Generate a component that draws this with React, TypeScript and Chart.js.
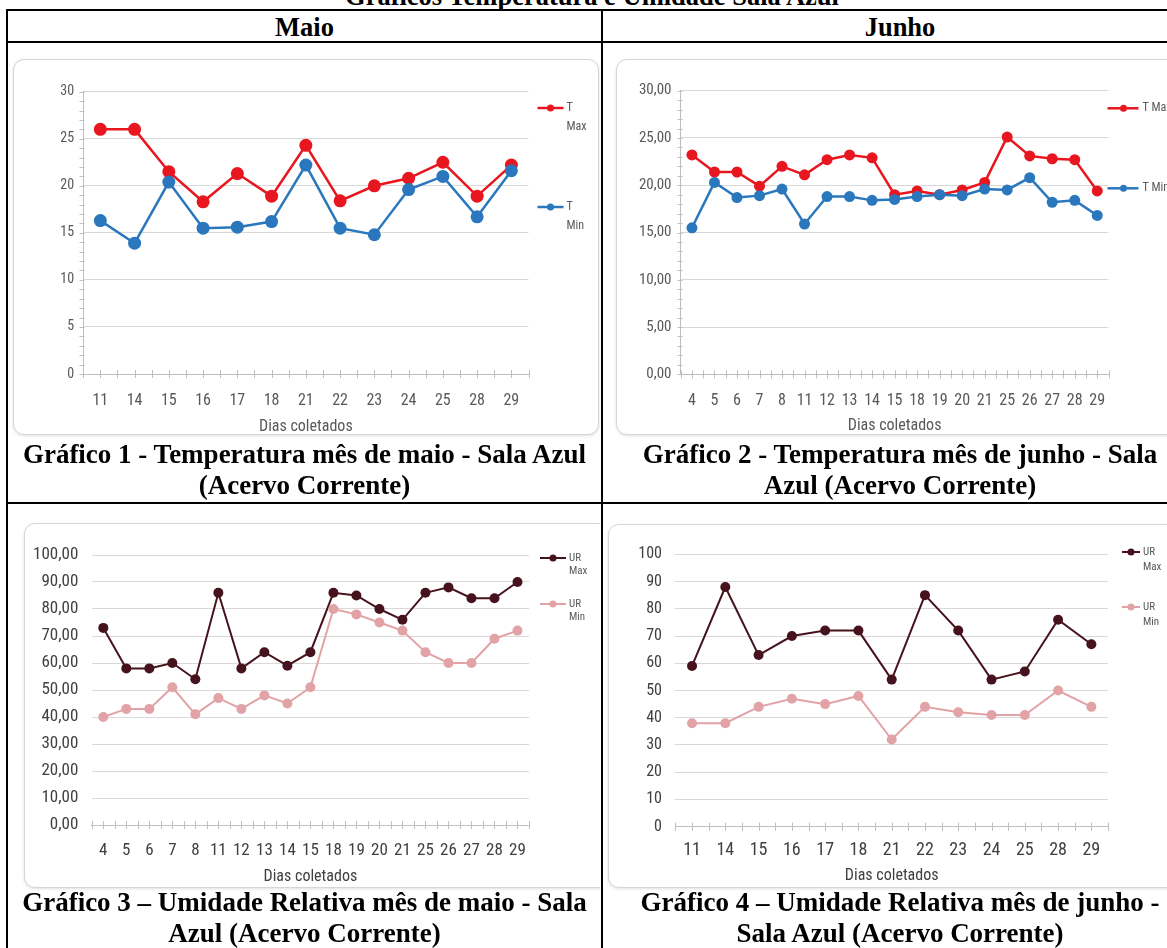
import React, { useEffect, useRef } from "react";
import { Chart, registerables } from "chart.js";

Chart.register(...registerables);

const NARROW = "'Liberation Sans Narrow', 'Arial Narrow', 'Roboto Condensed', 'DejaVu Sans Condensed', sans-serif";
const SERIF = "'Liberation Serif', 'Times New Roman', serif";

// ---------- Data ----------
const maioTempDays = ["11", "14", "15", "16", "17", "18", "21", "22", "23", "24", "25", "28", "29"];
const maioTMax = [26, 26, 21.5, 18.3, 21.3, 18.9, 24.3, 18.4, 20.0, 20.8, 22.5, 18.9, 22.2];
const maioTMin = [16.3, 13.9, 20.4, 15.5, 15.6, 16.2, 22.2, 15.5, 14.8, 19.6, 21.0, 16.7, 21.6];

const junhoTempDays = ["4", "5", "6", "7", "8", "11", "12", "13", "14", "15", "18", "19", "20", "21", "25", "26", "27", "28", "29"];
const junhoTMax = [23.2, 21.4, 21.4, 19.9, 22.0, 21.1, 22.7, 23.2, 22.9, 19.0, 19.4, 19.0, 19.5, 20.3, 25.1, 23.1, 22.8, 22.7, 19.4];
const junhoTMin = [15.5, 20.3, 18.7, 18.9, 19.6, 15.9, 18.8, 18.8, 18.4, 18.5, 18.8, 19.0, 18.9, 19.6, 19.5, 20.8, 18.2, 18.4, 16.8];

const maioURDays = ["4", "5", "6", "7", "8", "11", "12", "13", "14", "15", "18", "19", "20", "21", "25", "26", "27", "28", "29"];
const maioURMax = [73, 58, 58, 60, 54, 86, 58, 64, 59, 64, 86, 85, 80, 76, 86, 88, 84, 84, 90];
const maioURMin = [40, 43, 43, 51, 41, 47, 43, 48, 45, 51, 80, 78, 75, 72, 64, 60, 60, 69, 72];

const junhoURDays = ["11", "14", "15", "16", "17", "18", "21", "22", "23", "24", "25", "28", "29"];
const junhoURMax = [59, 88, 63, 70, 72, 72, 54, 85, 72, 54, 57, 76, 67];
const junhoURMin = [38, 38, 44, 47, 45, 48, 32, 44, 42, 41, 41, 50, 44];

const xTitle = "Dias coletados";
const docTitle = "Gráficos Temperatura e Umidade Sala Azul";
const colHeaders = ["Maio", "Junho"];
const captions = [
  ["Gráfico 1 - Temperatura mês de maio - Sala Azul", "(Acervo Corrente)"],
  ["Gráfico 2 - Temperatura mês de junho - Sala", "Azul (Acervo Corrente)"],
  ["Gráfico 3 – Umidade Relativa mês de maio - Sala", "Azul (Acervo Corrente)"],
  ["Gráfico 4 – Umidade Relativa mês de junho -", "Sala Azul (Acervo Corrente)"],
];

const RED = "#e8161e";
const BLUE = "#2a77bd";
const MAROON = "#46121d";
const PINK = "#e2a3a7";

// ---------- Types ----------
type Box = { x: number; y: number; w: number; h: number };
type Series = { label: string; data: number[]; color: string; legendLines: string[]; legendY: number };
type Spec = {
  labels: string[];
  series: Series[];
  yMax: number;
  yStep: number;
  decimals: number;
  box: Box;
  clip: { l: number; r: number };
  plot: { l: number; r: number; t: number; b: number };
  yLabelRight: number;
  xLabelY: number;
  titleY: number;
  yFontSize: number;
  xFontSize: number;
  titleFontSize: number;
  tickColor: string;
  pointRadius: number;
  lineWidth: number;
  yAxisLine: boolean;
  legend: { x1: number; x2: number; mx: number; tx: number; gap: number; size: number; lw: number };
};

function fmtNum(v: number, decimals: number) {
  return decimals ? v.toFixed(decimals).replace(".", ",") : String(v);
}

const specs: Spec[] = [
  {
    labels: maioTempDays,
    series: [
      { label: "T Max", data: maioTMax, color: RED, legendLines: ["T", "Max"], legendY: 108 },
      { label: "T Min", data: maioTMin, color: BLUE, legendLines: ["T", "Min"], legendY: 207 },
    ],
    yMax: 30, yStep: 5, decimals: 0,
    box: { x: 12.5, y: 59, w: 586, h: 376 },
    clip: { l: 8, r: 601 },
    plot: { l: 82.7, r: 528, t: 91.7, b: 374 },
    yLabelRight: 73.6, xLabelY: 400.7, titleY: 426.7,
    yFontSize: 14, xFontSize: 16, titleFontSize: 16,
    tickColor: "#595959", pointRadius: 6.5, lineWidth: 2.5, yAxisLine: true,
    legend: { x1: 537, x2: 563, mx: 550, tx: 566, gap: 18.5, size: 12, lw: 2.5 },
  },
  {
    labels: junhoTempDays,
    series: [
      { label: "T Max", data: junhoTMax, color: RED, legendLines: ["T Max"], legendY: 108.3 },
      { label: "T Min", data: junhoTMin, color: BLUE, legendLines: ["T Min"], legendY: 188.3 },
    ],
    yMax: 30, yStep: 5, decimals: 2,
    box: { x: 615.5, y: 59, w: 586, h: 376 },
    clip: { l: 603, r: 1167 },
    plot: { l: 680.2, r: 1108, t: 90.7, b: 374.3 },
    yLabelRight: 671, xLabelY: 400.5, titleY: 425.7,
    yFontSize: 15, xFontSize: 16, titleFontSize: 16,
    tickColor: "#595959", pointRadius: 5.5, lineWidth: 2.5, yAxisLine: true,
    legend: { x1: 1107, x2: 1138, mx: 1123, tx: 1142, gap: 16, size: 12, lw: 2.5 },
  },
  {
    labels: maioURDays,
    series: [
      { label: "UR Max", data: maioURMax, color: MAROON, legendLines: ["UR", "Max"], legendY: 558 },
      { label: "UR Min", data: maioURMin, color: PINK, legendLines: ["UR", "Min"], legendY: 604 },
    ],
    yMax: 100, yStep: 10, decimals: 2,
    box: { x: 24, y: 523, w: 586, h: 365 },
    clip: { l: 8, r: 600 },
    plot: { l: 91.8, r: 529, t: 555, b: 825 },
    yLabelRight: 78.3, xLabelY: 850.7, titleY: 876.7,
    yFontSize: 17, xFontSize: 17, titleFontSize: 16,
    tickColor: "#404040", pointRadius: 5, lineWidth: 2, yAxisLine: false,
    legend: { x1: 540, x2: 566, mx: 553, tx: 569, gap: 13, size: 11, lw: 2 },
  },
  {
    labels: junhoURDays,
    series: [
      { label: "UR Max", data: junhoURMax, color: MAROON, legendLines: ["UR", "Max"], legendY: 552 },
      { label: "UR Min", data: junhoURMin, color: PINK, legendLines: ["UR", "Min"], legendY: 607 },
    ],
    yMax: 100, yStep: 10, decimals: 0,
    box: { x: 608, y: 524, w: 586, h: 364 },
    clip: { l: 603, r: 1167 },
    plot: { l: 675.4, r: 1108, t: 554.3, b: 826.7 },
    yLabelRight: 662, xLabelY: 850.7, titleY: 876,
    yFontSize: 16, xFontSize: 18, titleFontSize: 16,
    tickColor: "#404040", pointRadius: 5, lineWidth: 2, yAxisLine: false,
    legend: { x1: 1122, x2: 1140, mx: 1131, tx: 1143, gap: 15, size: 11, lw: 2 },
  },
];

function LineChartBox({ spec }: { spec: Spec }) {
  const ref = useRef<HTMLCanvasElement | null>(null);

  useEffect(() => {
    const canvas = ref.current;
    if (!canvas) return;
    const { box, plot } = spec;
    const rx = (x: number) => x - box.x;
    const ry = (y: number) => y - box.y;
    const xLineH = spec.xFontSize * 1.2;
    const titleLineH = spec.titleFontSize * 1.2;

    const decor = {
      id: "decor",
      beforeDatasetsDraw(chart: any) {
        const { ctx, scales } = chart;
        const x = scales.x;
        const y = scales.y;
        const y0 = y.getPixelForValue(0);
        const half = (x.getPixelForValue(1) - x.getPixelForValue(0)) / 2;
        ctx.save();
        ctx.strokeStyle = "#bfbfbf";
        ctx.lineWidth = 1;
        ctx.beginPath();
        for (let i = 0; i <= spec.labels.length * 2; i++) {
          const px = Math.round(x.left + i * half) + 0.5;
          ctx.moveTo(px, y0 - 4);
          ctx.lineTo(px, y0 + 4);
        }
        if (spec.yAxisLine) {
          const ax = Math.round(y.right) + 0.5;
          for (let v = 0; v <= spec.yMax; v += 1) {
            const py = Math.round(y.getPixelForValue(v)) + 0.5;
            ctx.moveTo(ax - 4, py);
            ctx.lineTo(ax + 1, py);
          }
        }
        ctx.stroke();
        ctx.restore();
      },
      afterDraw(chart: any) {
        const { ctx } = chart;
        const lg = spec.legend;
        ctx.save();
        spec.series.forEach((s) => {
          const yy = ry(s.legendY);
          ctx.strokeStyle = s.color;
          ctx.lineWidth = lg.lw;
          ctx.beginPath();
          ctx.moveTo(rx(lg.x1), yy);
          ctx.lineTo(rx(lg.x2), yy);
          ctx.stroke();
          ctx.fillStyle = s.color;
          ctx.beginPath();
          ctx.arc(rx(lg.mx), yy, 3.5, 0, Math.PI * 2);
          ctx.fill();
          ctx.fillStyle = "#595959";
          ctx.font = `${lg.size}px ${NARROW}`;
          ctx.textBaseline = "middle";
          ctx.textAlign = "left";
          s.legendLines.forEach((t, k) => ctx.fillText(t, rx(lg.tx), yy + k * lg.gap));
        });
        ctx.restore();
      },
    };

    const chart = new Chart(canvas, {
      type: "line",
      data: {
        labels: spec.labels,
        datasets: spec.series.map((s, i) => ({
          label: s.label,
          data: s.data,
          borderColor: s.color,
          backgroundColor: s.color,
          pointBackgroundColor: s.color,
          pointBorderColor: s.color,
          pointRadius: spec.pointRadius,
          pointBorderWidth: 0,
          borderWidth: spec.lineWidth,
          tension: 0,
          order: spec.series.length - i,
          clip: false as any,
        })),
      },
      options: {
        responsive: false,
        maintainAspectRatio: false,
        animation: false,
        events: [],
        layout: {
          padding: { left: 0, top: plot.t - box.y, right: box.x + box.w - plot.r, bottom: 0 },
        },
        plugins: { legend: { display: false }, tooltip: { enabled: false } },
        scales: {
          x: {
            type: "category",
            offset: true,
            grid: { display: false, drawTicks: false },
            border: { display: true, color: "#bfbfbf", width: 1 },
            ticks: {
              autoSkip: false,
              maxRotation: 0,
              minRotation: 0,
              font: { family: NARROW, size: spec.xFontSize },
              color: spec.tickColor,
              padding: spec.xLabelY - plot.b - xLineH / 2,
            },
            title: {
              display: true,
              text: xTitle,
              font: { family: NARROW, size: spec.titleFontSize },
              color: spec.tickColor,
              padding: { top: 0, bottom: box.y + box.h - spec.titleY - titleLineH / 2 },
            },
            afterFit: (s: any) => {
              s.height = box.y + box.h - plot.b;
            },
          },
          y: {
            min: 0,
            max: spec.yMax,
            grid: {
              color: (c: any) => (c.tick && c.tick.value === 0 ? "rgba(0,0,0,0)" : "#d9d9d9"),
              drawTicks: false,
            },
            border: { display: spec.yAxisLine, color: "#bfbfbf", width: 1 },
            ticks: {
              stepSize: spec.yStep,
              callback: (v: any) => fmtNum(Number(v), spec.decimals),
              font: { family: NARROW, size: spec.yFontSize },
              color: spec.tickColor,
              padding: plot.l - spec.yLabelRight,
            },
            afterFit: (s: any) => {
              s.width = plot.l - box.x;
            },
          },
        },
      } as any,
      plugins: [decor as any],
    });
    return () => chart.destroy();
  }, [spec]);

  const { box, clip } = spec;
  return (
    <div
      style={{
        position: "absolute",
        left: clip.l,
        top: 0,
        width: clip.r - clip.l,
        height: 948,
        overflow: "hidden",
      }}
    >
      <div
        style={{
          position: "absolute",
          left: box.x - clip.l,
          top: box.y,
          width: box.w,
          height: box.h,
          border: "1px solid #d6d6d6",
          borderRadius: 11,
          boxSizing: "border-box",
          boxShadow: "0 1px 3px rgba(0,0,0,0.12)",
          background: "#fff",
        }}
      />
      <canvas
        ref={ref}
        width={box.w}
        height={box.h}
        style={{ position: "absolute", left: box.x - clip.l, top: box.y, width: box.w, height: box.h }}
      />
    </div>
  );
}

const capStyle: React.CSSProperties = {
  position: "absolute",
  fontFamily: SERIF,
  fontWeight: "bold",
  fontSize: 27,
  lineHeight: "31px",
  textAlign: "center",
  whiteSpace: "nowrap",
  color: "#000",
};

function Caption({ lines, left, width, top }: { lines: string[]; left: number; width: number; top: number }) {
  return (
    <div style={{ ...capStyle, left, width, top }}>
      {lines.map((l, i) => (
        <div key={i}>{l}</div>
      ))}
    </div>
  );
}

export default function App() {
  const line = (l: number, t: number, w: number, h: number) => (
    <div style={{ position: "absolute", left: l, top: t, width: w, height: h, background: "#000" }} />
  );
  return (
    <div
      style={{
        position: "fixed",
        left: 0,
        top: 0,
        width: 1167,
        height: 948,
        overflow: "hidden",
        background: "#fff",
      }}
    >
      <div style={{ ...capStyle, left: 0, width: 1184, top: -19, lineHeight: "30px", fontSize: 26.5 }}>{docTitle}</div>
      {line(6, 9, 1200, 2)}
      {line(6, 41, 1200, 2)}
      {line(6, 502, 1200, 2)}
      {line(6, 9, 2, 940)}
      {line(601, 9, 2, 940)}
      <div style={{ ...capStyle, left: 8, width: 593, top: 11.8, lineHeight: "30px", fontSize: 26.5 }}>{colHeaders[0]}</div>
      <div style={{ ...capStyle, left: 603, width: 594, top: 11.8, lineHeight: "30px", fontSize: 26.5 }}>{colHeaders[1]}</div>
      {specs.map((s, i) => (
        <LineChartBox key={i} spec={s} />
      ))}
      <Caption lines={captions[0]} left={8} width={593} top={439} />
      <Caption lines={captions[1]} left={603} width={594} top={439} />
      <Caption lines={captions[2]} left={8} width={593} top={887} />
      <Caption lines={captions[3]} left={603} width={594} top={887} />
    </div>
  );
}
